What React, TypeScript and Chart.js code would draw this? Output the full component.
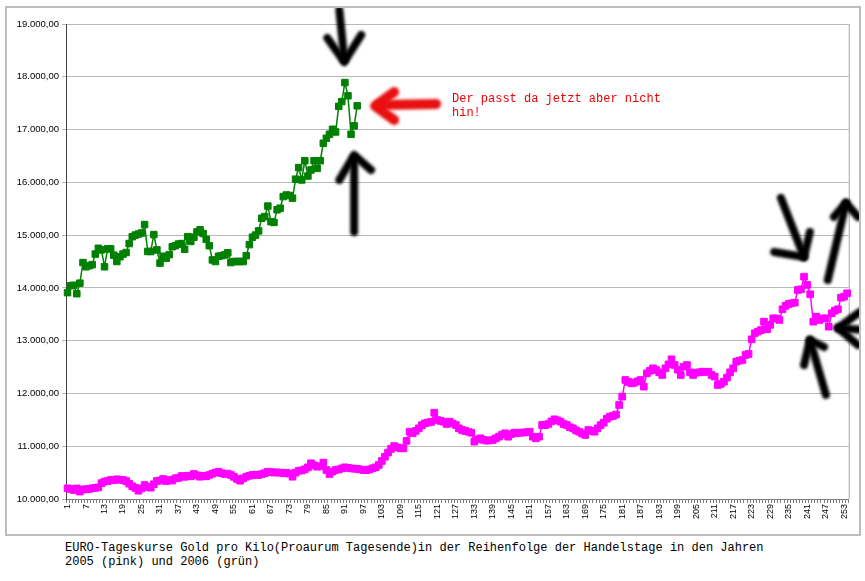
import React, { useEffect, useRef } from 'react';
import { Chart, registerables } from 'chart.js';

Chart.register(...registerables);

// Trading-day numbers (categories)
const dayLabels: string[] = Array.from({ length: 254 }, (_, i) => String(i + 1));

// 2005 (pink) – EUR per kilo gold, daily close
const gold2005: number[] = [
  10203, 10190, 10170, 10200, 10140, 10180, 10184, 10190, 10203, 10210,
  10220, 10300, 10330, 10340, 10360, 10355, 10373, 10365, 10360, 10340,
  10290, 10240, 10210, 10157, 10200, 10265, 10230, 10214, 10280, 10341,
  10350, 10379, 10340, 10360, 10350, 10392, 10400, 10436, 10420, 10441,
  10430, 10473, 10450, 10422, 10440, 10430, 10455, 10480, 10500, 10517,
  10490, 10473, 10480, 10455, 10420, 10380, 10347, 10390, 10422, 10440,
  10455, 10460, 10455, 10470, 10490, 10517, 10510, 10500, 10505, 10498,
  10490, 10498, 10480, 10422, 10500, 10536, 10540, 10563, 10600, 10677,
  10640, 10612, 10620, 10688, 10550, 10473, 10520, 10550, 10560, 10580,
  10600, 10590, 10580, 10575, 10570, 10560, 10550, 10545, 10560, 10582,
  10600, 10644, 10720, 10800, 10880, 10950, 11004, 10980, 10961, 10960,
  11100, 11275, 11245, 11290, 11340, 11400, 11435, 11450, 11460, 11635,
  11497, 11480, 11465, 11421, 11465, 11430, 11402, 11340, 11307, 11290,
  11275, 11256, 11086, 11130, 11150, 11120, 11105, 11110, 11118, 11150,
  11180, 11220, 11245, 11180, 11230, 11256, 11250, 11256, 11260, 11265,
  11275, 11180, 11150, 11180, 11402, 11400, 11421, 11470, 11510, 11490,
  11465, 11420, 11402, 11360, 11340, 11300, 11275, 11240, 11213, 11307,
  11290, 11275, 11340, 11400, 11446, 11520, 11560, 11573, 11600, 11781,
  11939, 12255, 12220, 12192, 12204, 12230, 12255, 12128, 12382, 12430,
  12476, 12444, 12400, 12350, 12476, 12550, 12647, 12539, 12450, 12350,
  12507, 12539, 12400, 12350, 12393, 12400, 12412, 12410, 12412, 12350,
  12318, 12160, 12180, 12223, 12300, 12400, 12476, 12602, 12620, 12634,
  12729, 12748, 13026, 13140, 13171, 13200, 13360, 13216, 13300, 13424,
  13420, 13392, 13595, 13660, 13695, 13708, 13720, 13960, 13973, 14212,
  14056, 13880, 13360, 13455, 13392, 13420, 13424, 13265, 13519, 13568,
  13595, 13815, 13834, 13898,
];

// 2006 (green)
const gold2006: number[] = [
  13910, 14040, 14050, 13890, 14090, 14480, 14400, 14420, 14440, 14640,
  14750, 14720, 14400, 14740, 14740, 14620, 14500, 14590, 14640, 14670,
  14840, 14970, 15000, 15020, 15040, 15200, 14690, 14690, 15010, 14720,
  14470, 14600, 14560, 14630, 14780, 14800, 14830, 14840, 14730, 14970,
  14880, 14960, 15060, 15100, 15030, 14920, 14800, 14530, 14500, 14600,
  14610, 14625, 14665, 14480, 14500, 14500, 14500, 14500, 14610, 14820,
  14960, 15000, 15080, 15320, 15350, 15550, 15255, 15240, 15480, 15510,
  15730, 15760, 15750, 15700, 16060, 16280, 16045, 16410, 16120, 16235,
  16410, 16265, 16410, 16740, 16835, 16910, 17005, 16955, 17440, 17530,
  17890, 17640, 16910, 17070, 17450,
];

const yMin = 10000;
const yMax = 19000;
const yStep = 1000;
const xLabelEvery = 6;

// Hand-drawn annotation arrows, in data coordinates [category index (0-based), value]
type Pt = [number, number];
const arrowTopDown: Pt[][] = [
  [[88.2, 19267], [89.0, 18800], [89.8, 18319]],
  [[84.3, 18736], [89.8, 18281], [95.3, 18793]],
];
const arrowPeakUp: Pt[][] = [
  [[93.0, 15060], [93.0, 16462]],
  [[88.2, 16045], [93.0, 16519], [98.5, 16235]],
];
const arrowRed: Pt[][] = [
  [[119.6, 17485], [101.1, 17466]],
  [[106.0, 17713], [99.8, 17447], [106.0, 17182]],
];
const arrowRightDown: Pt[][] = [
  [[231.5, 15704], [239.0, 14586]],
  [[229.3, 14681], [239.0, 14586], [240.9, 15060]],
];
const arrowRightUp: Pt[][] = [
  [[246.7, 14150], [252.6, 15609]],
  [[248.7, 15344], [252.6, 15609], [256.5, 15344]],
];
const arrowRightLeft: Pt[][] = [
  [[258.4, 13203], [250.0, 13240]],
  [[257.1, 13544], [250.0, 13240], [256.5, 12918]],
];
const arrowLowUp: Pt[][] = [
  [[246.1, 11971], [240.9, 13013]],
  [[239.0, 12539], [240.9, 13013], [245.5, 12880]],
];

const noteText = ['Der passt da jetzt aber nicht', 'hin!'];
const captionText = [
  'EURO-Tageskurse Gold pro Kilo(Proaurum Tagesende)in der Reihenfolge der Handelstage in den Jahren',
  '2005 (pink) und 2006 (grün)',
];

const formatDE = (v: number) =>
  Math.round(v).toString().replace(/\B(?=(\d{3})+(?!\d))/g, '.') + ',00';

const arrowsPlugin = {
  id: 'handArrows',
  beforeDatasetsDraw(chart: any) {
    const { ctx, chartArea } = chart;
    ctx.save();
    ctx.strokeStyle = '#a8a8a8';
    ctx.lineWidth = 1;
    ctx.beginPath();
    ctx.moveTo(chartArea.right + 0.5, chartArea.top);
    ctx.lineTo(chartArea.right + 0.5, chartArea.bottom);
    ctx.stroke();
    ctx.restore();
  },
  afterDraw(chart: any) {
    const { ctx } = chart;
    const xs = chart.scales.x;
    const ys = chart.scales.y;
    const groups: { strokes: Pt[][]; color: string; width: number }[] = [
      { strokes: arrowTopDown, color: '#000000', width: 8 },
      { strokes: arrowPeakUp, color: '#000000', width: 8 },
      { strokes: arrowRed, color: '#e81010', width: 10 },
      { strokes: arrowRightDown, color: '#000000', width: 8 },
      { strokes: arrowRightUp, color: '#000000', width: 8 },
      { strokes: arrowRightLeft, color: '#000000', width: 8 },
      { strokes: arrowLowUp, color: '#000000', width: 8 },
    ];
    ctx.save();
    ctx.lineCap = 'round';
    ctx.lineJoin = 'round';
    ctx.filter = 'blur(1.4px)';
    for (const g of groups) {
      ctx.strokeStyle = g.color;
      ctx.lineWidth = g.width;
      for (const s of g.strokes) {
        ctx.beginPath();
        s.forEach(([i, v], k) => {
          const px = xs.getPixelForValue(i);
          const py = ys.getPixelForValue(v);
          if (k === 0) ctx.moveTo(px, py);
          else ctx.lineTo(px, py);
        });
        ctx.stroke();
      }
    }
    ctx.restore();
  },
};

export default function App() {
  const canvasRef = useRef<HTMLCanvasElement | null>(null);

  useEffect(() => {
    if (!canvasRef.current) return;
    const chart = new Chart(canvasRef.current, {
      type: 'line',
      data: {
        labels: dayLabels,
        datasets: [
          {
            label: '2005',
            data: gold2005,
            borderColor: '#ff00ff',
            backgroundColor: '#ff00ff',
            pointBackgroundColor: '#ff00ff',
            pointBorderColor: '#ff00ff',
            borderWidth: 1.5,
            pointStyle: 'rect',
            pointRadius: 4.7,
            pointBorderWidth: 1,
            tension: 0,
          },
          {
            label: '2006',
            data: gold2006,
            borderColor: '#008000',
            backgroundColor: '#008000',
            pointBackgroundColor: '#008000',
            pointBorderColor: '#008000',
            borderWidth: 1.5,
            pointStyle: 'rect',
            pointRadius: 4.6,
            pointBorderWidth: 1,
            tension: 0,
          },
        ],
      },
      options: {
        animation: false,
        responsive: false,
        maintainAspectRatio: false,
        layout: { padding: { top: 16, right: 8, left: 0, bottom: 0 } },
        plugins: {
          legend: { display: false },
          tooltip: { enabled: false },
          title: { display: false },
        },
        scales: {
          x: {
            type: 'category',
            offset: true,
            grid: {
              display: true,
              drawOnChartArea: false,
              drawTicks: true,
              tickLength: 4,
              offset: true,
              color: '#808080',
            },
            border: { display: true, color: '#808080', width: 1 },
            ticks: {
              autoSkip: false,
              maxRotation: 90,
              minRotation: 90,
              padding: 1,
              color: '#000000',
              font: { family: 'Liberation Sans, Arial, sans-serif', size: 9 },
              callback: (_v: any, idx: number) =>
                idx % xLabelEvery === 0 ? dayLabels[idx] : '',
            },
            afterFit: (s: any) => {
              s.height = 35;
            },
          },
          y: {
            type: 'linear',
            min: yMin,
            max: yMax,
            grid: {
              color: '#b8b8b8',
              lineWidth: 1,
              drawTicks: true,
              tickLength: 4,
            },
            border: { display: true, color: '#404040', width: 1 },
            ticks: {
              stepSize: yStep,
              padding: 3,
              color: '#000000',
              font: { family: 'Liberation Sans, Arial, sans-serif', size: 9.5 },
              callback: (v: any) => formatDE(Number(v)),
            },
            afterFit: (s: any) => {
              s.width = 59;
            },
          },
        },
      },
      plugins: [arrowsPlugin],
    } as any);
    return () => chart.destroy();
  }, []);

  const mono = '"Courier New", "Liberation Mono", monospace';

  return (
    <div style={{ position: 'absolute', left: 0, top: 0, width: 865, height: 581, background: '#ffffff' }}>
      <div
        style={{
          position: 'absolute',
          left: 5,
          top: 6,
          width: 856,
          height: 530,
          boxSizing: 'border-box',
          border: '2px solid #bdbdbd',
        }}
      >
        <canvas ref={canvasRef} width={852} height={526} style={{ display: 'block', width: 852, height: 526 }} />
      </div>
      <div
        style={{
          position: 'absolute',
          left: 452,
          top: 92,
          fontFamily: mono,
          fontSize: 12,
          lineHeight: '14px',
          color: '#ee0000',
          whiteSpace: 'pre',
        }}
      >
        {noteText[0]}
        <br />
        {noteText[1]}
      </div>
      <div
        style={{
          position: 'absolute',
          left: 65,
          top: 541,
          fontFamily: mono,
          fontSize: 12,
          lineHeight: '14px',
          color: '#000000',
          whiteSpace: 'pre',
        }}
      >
        {captionText[0]}
        <br />
        {captionText[1]}
      </div>
    </div>
  );
}
